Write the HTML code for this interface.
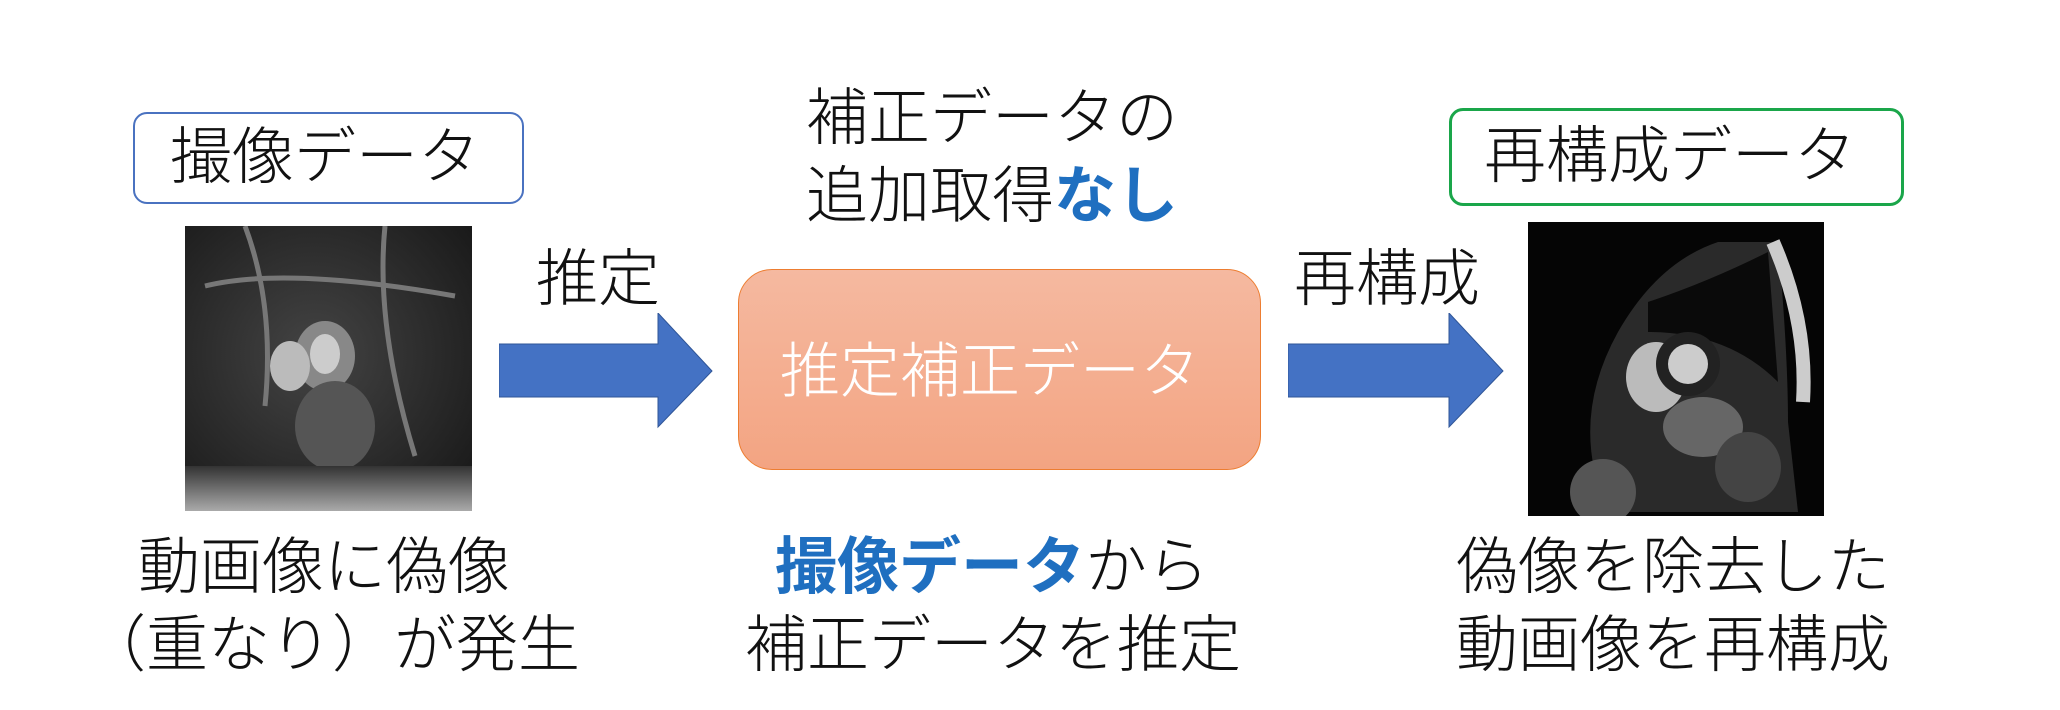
<!DOCTYPE html>
<html><head><meta charset="utf-8"><style>
body{margin:0;width:2060px;height:710px;background:#fff;position:relative;overflow:hidden;font-family:"Liberation Sans","Noto Sans CJK JP",sans-serif;}
.t{position:absolute;white-space:nowrap;color:#111;font-size:62px;line-height:1;font-weight:300;}
.box{position:absolute;box-sizing:border-box;border-radius:14px;background:#fff;}
</style></head><body>
<div class="box" style="left:133px;top:112px;width:391px;height:92px;border:2.5px solid #4a72c0;"></div>
<div class="t" style="left:170px;top:127px;">撮像データ</div>
<div class="box" style="left:1449px;top:108px;width:455px;height:98px;border:3px solid #1aa64a;"></div>
<div class="t" style="left:1484px;top:126px;">再構成データ</div>

<svg style="position:absolute;left:185px;top:226px" width="287" height="285">
<defs><radialGradient id="g1" cx="45%" cy="45%" r="70%"><stop offset="0" stop-color="#444"/><stop offset="1" stop-color="#1a1a1a"/></radialGradient>
<linearGradient id="gb" x1="0" y1="0" x2="0" y2="1"><stop offset="0" stop-color="#333"/><stop offset="1" stop-color="#aaa"/></linearGradient></defs>
<rect width="287" height="285" fill="url(#g1)"/>
<ellipse cx="140" cy="130" rx="30" ry="35" fill="#888"/>
<ellipse cx="140" cy="128" rx="15" ry="20" fill="#ccc"/>
<ellipse cx="105" cy="140" rx="20" ry="25" fill="#bbb"/>
<ellipse cx="150" cy="200" rx="40" ry="45" fill="#555"/>
<rect x="0" y="240" width="287" height="45" fill="url(#gb)"/>
<path d="M60 0 Q90 80 80 180 M200 0 Q190 100 230 230 M20 60 Q100 40 270 70" stroke="#777" stroke-width="5" fill="none"/>
</svg>

<svg style="position:absolute;left:1528px;top:222px" width="296" height="294">
<rect width="296" height="294" fill="#050505"/>
<path d="M80 290 Q40 200 90 110 Q130 40 190 20 L250 20 Q260 130 260 200 L270 290 Z" fill="#2a2a2a"/>
<path d="M120 80 Q180 60 240 30 L250 160 Q200 110 120 110 Z" fill="#0a0a0a"/>
<ellipse cx="128" cy="155" rx="30" ry="35" fill="#bbb"/>
<ellipse cx="160" cy="142" rx="32" ry="32" fill="#222"/>
<ellipse cx="160" cy="142" rx="20" ry="20" fill="#ccc"/>
<ellipse cx="175" cy="205" rx="40" ry="30" fill="#666"/>
<ellipse cx="75" cy="270" rx="33" ry="33" fill="#555"/>
<ellipse cx="220" cy="245" rx="33" ry="35" fill="#444"/>
<path d="M245 20 Q280 100 275 180" stroke="#ccc" stroke-width="14" fill="none"/>
</svg>

<div class="t" style="left:536px;top:249px;">推定</div>
<svg style="position:absolute;left:499px;top:313px" width="215" height="116">
<polygon points="0,31 159,31 159,0 213,58 159,114 159,84 0,84" fill="#4472c4" stroke="#2f5597" stroke-width="1"/>
</svg>
<div class="t" style="left:1294px;top:249px;">再構成</div>
<svg style="position:absolute;left:1288px;top:313px" width="217" height="116">
<polygon points="0,31 161,31 161,0 215,58 161,114 161,84 0,84" fill="#4472c4" stroke="#2f5597" stroke-width="1"/>
</svg>

<div style="position:absolute;left:738px;top:269px;width:523px;height:201px;box-sizing:border-box;border-radius:34px;border:1.5px solid #ed7d31;background:linear-gradient(#f5b9a0,#f3a482);"></div>
<div class="t" style="left:780px;top:342px;color:#fff;font-size:60px;">推定補正データ</div>

<div class="t" style="left:806px;top:88px;">補正データの</div>
<div class="t" style="left:806px;top:166px;">追加取得<b style="color:#1f6fc0;font-weight:700">なし</b></div>

<div class="t" style="left:138px;top:537px;">動画像に偽像</div>
<div class="t" style="left:84px;top:615px;">（重なり）が発生</div>
<div class="t" style="left:775px;top:537px;"><b style="color:#1f6fc0;font-weight:700">撮像データ</b>から</div>
<div class="t" style="left:745px;top:615px;">補正データを推定</div>
<div class="t" style="left:1456px;top:537px;">偽像を除去した</div>
<div class="t" style="left:1456px;top:615px;">動画像を再構成</div>
</body></html>
